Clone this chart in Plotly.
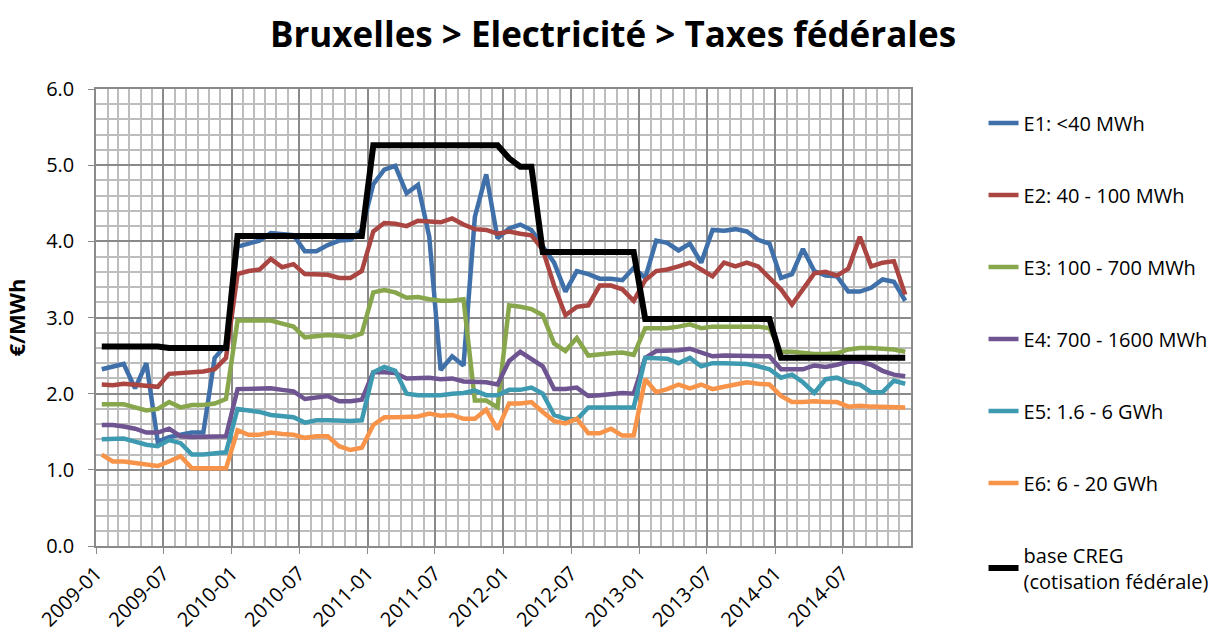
import pandas as pd
import plotly.graph_objects as go

# months 2009-01 .. 2014-12
months = pd.date_range("2009-01-01", periods=72, freq="MS").strftime("%Y-%m").tolist()
tick_labels = ["2009-01", "2009-07", "2010-01", "2010-07", "2011-01", "2011-07",
               "2012-01", "2012-07", "2013-01", "2013-07", "2014-01", "2014-07"]

e1 = [2.32, 2.36, 2.39, 2.07, 2.40, 1.37, 1.43, 1.46, 1.49, 1.49, 2.47, 2.64,
      3.93, 3.97, 4.01, 4.11, 4.10, 4.08, 3.87, 3.87, 3.95, 4.01, 4.02, 4.15,
      4.75, 4.94, 4.99, 4.63, 4.74, 4.06, 2.31, 2.49, 2.37, 4.32, 4.88, 4.04,
      4.17, 4.22, 4.15, 3.93, 3.72, 3.34, 3.61, 3.57, 3.51, 3.51, 3.49, 3.65,
      3.52, 4.01, 3.98, 3.88, 3.97, 3.72, 4.15, 4.14, 4.16, 4.13, 4.02, 3.97,
      3.52, 3.57, 3.90, 3.61, 3.55, 3.54, 3.34, 3.34, 3.39, 3.50, 3.47, 3.22]
e2 = [2.12, 2.11, 2.13, 2.12, 2.10, 2.09, 2.26, 2.27, 2.27, 2.29, 2.32, 2.47,
      3.57, 3.61, 3.63, 3.77, 3.66, 3.70, 3.57, 3.57, 3.56, 3.52, 3.52, 3.61,
      4.13, 4.24, 4.23, 4.20, 4.27, 4.26, 4.25, 4.30, 4.22, 4.16, 4.15, 4.10,
      4.13, 4.10, 4.08, 3.89, 3.42, 3.03, 3.14, 3.16, 3.42, 3.42, 3.37, 3.22,
      3.49, 3.61, 3.63, 3.67, 3.72, 3.63, 3.54, 3.72, 3.67, 3.72, 3.67, 3.52,
      3.37, 3.17, 3.37, 3.58, 3.60, 3.55, 3.64, 4.06, 3.67, 3.72, 3.74, 3.30]
e3 = [1.86, 1.86, 1.86, 1.82, 1.78, 1.80, 1.89, 1.82, 1.85, 1.85, 1.87, 1.93,
      2.96, 2.96, 2.96, 2.96, 2.92, 2.88, 2.74, 2.76, 2.77, 2.76, 2.74, 2.79,
      3.33, 3.36, 3.33, 3.26, 3.27, 3.24, 3.22, 3.22, 3.24, 1.91, 1.91, 1.82,
      3.16, 3.14, 3.11, 3.03, 2.66, 2.56, 2.73, 2.50, 2.52, 2.53, 2.54, 2.51,
      2.86, 2.86, 2.86, 2.88, 2.91, 2.86, 2.88, 2.88, 2.88, 2.88, 2.88, 2.86,
      2.55, 2.55, 2.53, 2.52, 2.52, 2.53, 2.58, 2.60, 2.60, 2.59, 2.58, 2.55]
e4 = [1.59, 1.59, 1.57, 1.54, 1.49, 1.49, 1.54, 1.44, 1.43, 1.43, 1.43, 1.44,
      2.06, 2.06, 2.07, 2.07, 2.05, 2.03, 1.93, 1.95, 1.97, 1.90, 1.90, 1.92,
      2.28, 2.28, 2.27, 2.20, 2.20, 2.21, 2.19, 2.20, 2.16, 2.16, 2.15, 2.12,
      2.43, 2.55, 2.46, 2.36, 2.06, 2.06, 2.08, 1.97, 1.98, 2.00, 2.01, 2.00,
      2.47, 2.56, 2.56, 2.57, 2.59, 2.54, 2.49, 2.50, 2.50, 2.50, 2.50, 2.49,
      2.32, 2.32, 2.32, 2.37, 2.35, 2.38, 2.42, 2.42, 2.38, 2.30, 2.25, 2.23]
e5 = [1.40, 1.40, 1.41, 1.37, 1.33, 1.31, 1.39, 1.35, 1.20, 1.20, 1.21, 1.23,
      1.80, 1.78, 1.76, 1.72, 1.70, 1.69, 1.62, 1.65, 1.65, 1.64, 1.64, 1.65,
      2.28, 2.35, 2.30, 2.00, 1.98, 1.98, 1.98, 2.00, 2.01, 2.04, 1.98, 1.98,
      2.05, 2.05, 2.08, 2.00, 1.72, 1.67, 1.66, 1.82, 1.82, 1.82, 1.82, 1.82,
      2.47, 2.47, 2.46, 2.40, 2.47, 2.36, 2.40, 2.40, 2.40, 2.39, 2.36, 2.32,
      2.21, 2.25, 2.15, 2.01, 2.19, 2.21, 2.15, 2.12, 2.02, 2.02, 2.17, 2.13]
e6 = [1.20, 1.11, 1.11, 1.09, 1.07, 1.05, 1.11, 1.18, 1.02, 1.02, 1.02, 1.02,
      1.52, 1.46, 1.46, 1.49, 1.47, 1.46, 1.42, 1.44, 1.44, 1.31, 1.26, 1.29,
      1.59, 1.69, 1.69, 1.69, 1.70, 1.74, 1.71, 1.72, 1.67, 1.67, 1.79, 1.53,
      1.87, 1.87, 1.89, 1.76, 1.64, 1.61, 1.67, 1.48, 1.48, 1.54, 1.45, 1.45,
      2.19, 2.02, 2.06, 2.12, 2.07, 2.12, 2.06, 2.09, 2.12, 2.15, 2.13, 2.12,
      1.97, 1.89, 1.89, 1.90, 1.89, 1.89, 1.83, 1.84, 1.83, 1.83, 1.83, 1.82]
creg = [2.62] * 6 + [2.60] * 6 + [4.07] * 12 + [5.26] * 12 + [5.09, 4.98, 4.98] \
       + [3.86] * 9 + [2.98] * 12 + [2.47] * 12

names = ["E1: <40 MWh", "E2: 40 - 100 MWh", "E3: 100 - 700 MWh",
         "E4: 700 - 1600 MWh", "E5: 1.6 - 6 GWh", "E6: 6 - 20 GWh",
         "base CREG<br>(cotisation fédérale)"]
colors = ["#4070aa", "#aa4541", "#88a64b", "#6e5490", "#3e9ab1", "#f7944a", "#000000"]
series = [e1, e2, e3, e4, e5, e6, creg]

fig = go.Figure()
for i, (nm, col, ys) in enumerate(zip(names, colors, series)):
    fig.add_trace(go.Scatter(
        x=months, y=ys, name=nm, mode="lines",
        xperiod="M1", xperiodalignment="middle",
        line=dict(color=col, width=6 if i == 6 else 4.5),
        legendgroup=str(i),
    ))

font = "Open Sans, sans-serif"
fig.update_layout(
    width=1226, height=644,
    paper_bgcolor="white", plot_bgcolor="white",
    margin=dict(l=96, r=313, t=89, b=89),
    font=dict(family=font, size=20, color="#000"),
    title=dict(text="<b>Bruxelles > Electricité > Taxes fédérales</b>",
               x=0.5, xanchor="center", y=1 - 35 / 644, yanchor="middle",
               font=dict(size=35)),
    showlegend=True,
    legend=dict(x=1.089, xanchor="left", y=0.968, yanchor="top",
                font=dict(size=20), tracegroupgap=43, maxheight=644,
                bgcolor="rgba(0,0,0,0)"),
)
fig.update_xaxes(
    type="date", range=["2009-01-01", "2015-01-01"],
    tickmode="array", tickvals=tick_labels, ticktext=tick_labels, tickangle=-45,
    showgrid=True, gridcolor="#8a8a8a", gridwidth=1.5,
    ticks="outside", ticklen=6, tickcolor="#8a8a8a",
    showline=True, linecolor="#8a8a8a", linewidth=1.5, mirror=True,
    minor=dict(dtick="M1", tick0="2009-01-01", showgrid=True,
               gridcolor="#bdbdbd", gridwidth=1.5),
    tickfont=dict(size=20),
)
fig.update_yaxes(
    range=[0, 6], dtick=1, tickformat=".1f",
    title=dict(text="<b>€/MWh</b>", font=dict(size=22), standoff=14),
    showgrid=True, gridcolor="#8a8a8a", gridwidth=1.5,
    ticks="outside", ticklen=6, tickcolor="#8a8a8a", ticklabelstandoff=10,
    showline=True, linecolor="#8a8a8a", linewidth=1.5, mirror=True,
    minor=dict(dtick=0.2, showgrid=True, gridcolor="#bdbdbd", gridwidth=1.5),
    zeroline=False,
)

fig.write_html("out.html", config={"displayModeBar": False},
               post_script="document.body.style.margin='0';")
